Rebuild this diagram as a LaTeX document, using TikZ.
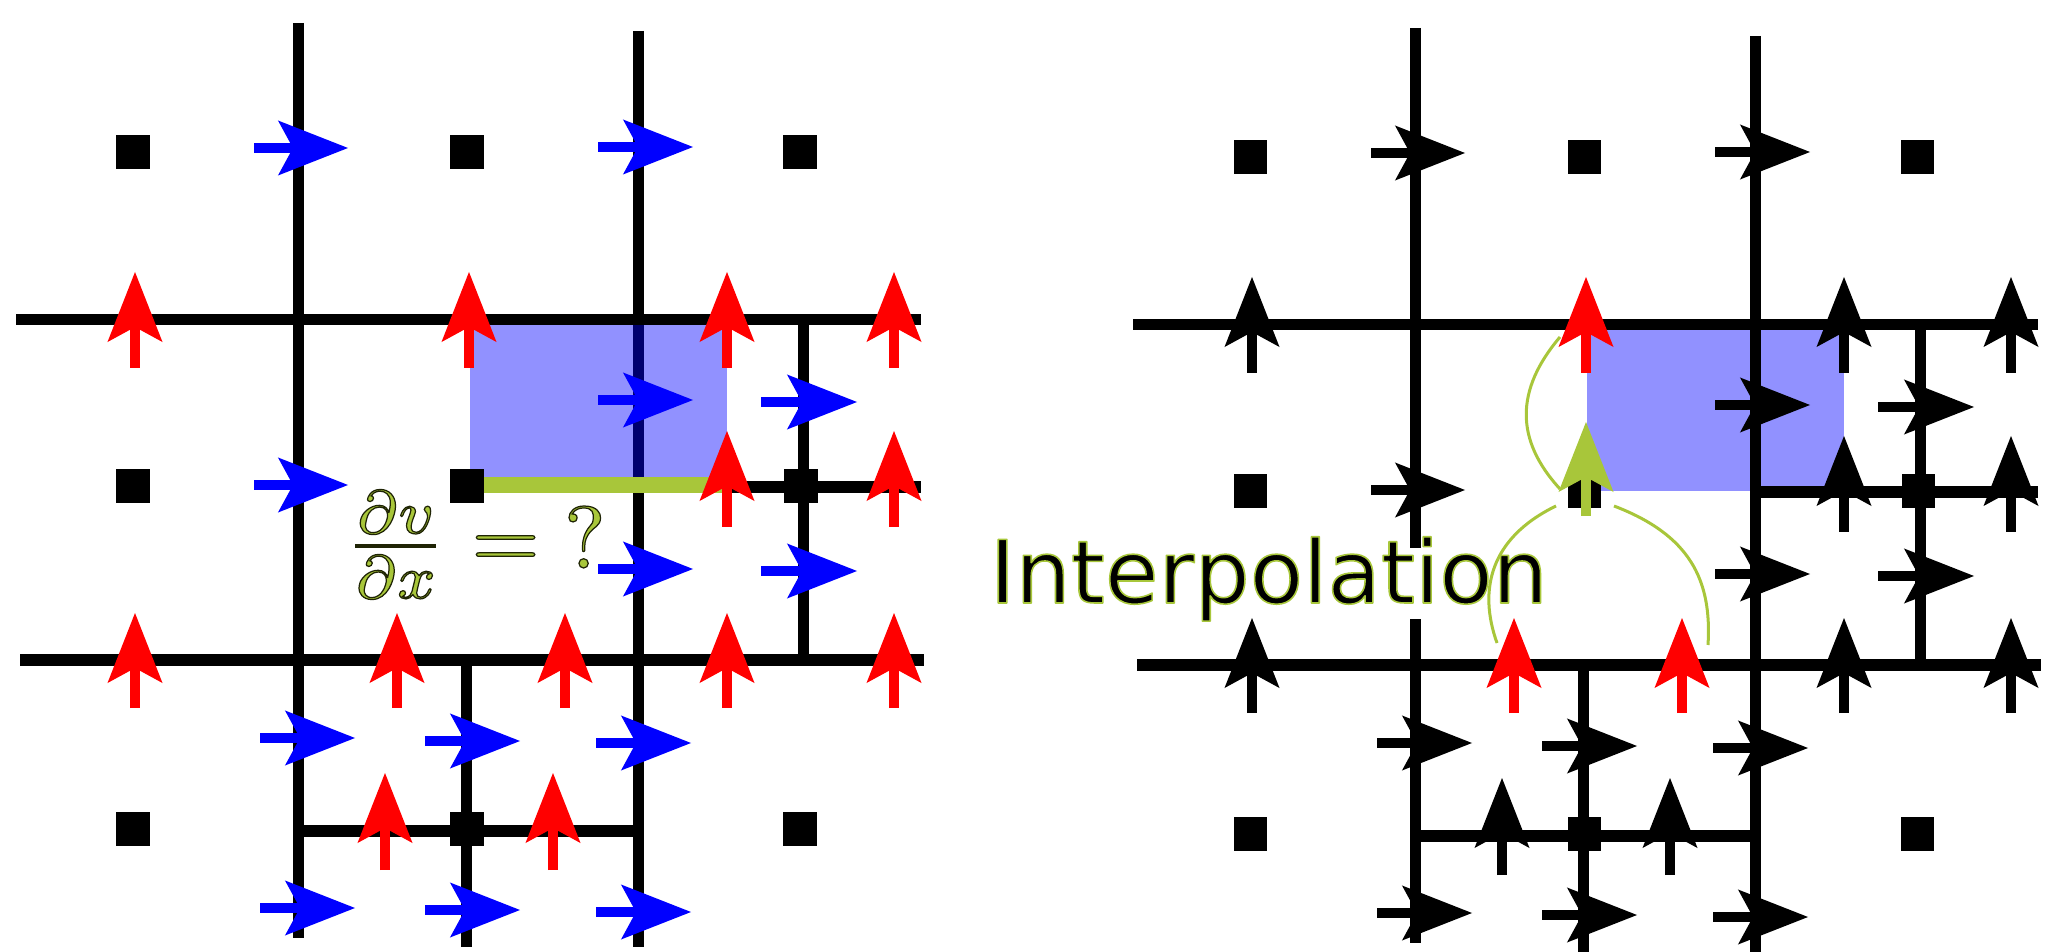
\documentclass[tikz,border=0pt]{standalone}
\usepackage{fontspec}
\usepackage{amsmath}
\usepackage{tikz}
\usetikzlibrary{arrows.meta}
\newfontfamily\labelfont{DejaVu Sans}
\definecolor{igreen}{RGB}{168,198,58}
% text drawn with fill and stroke (pdf text render mode 2)
\newcommand{\rimmed}[2]{\special{pdf:code q #1 2 Tr}#2\special{pdf:code Q}}

\begin{document}
\begin{tikzpicture}[
  x=0.01cm, y=-0.01cm,
  meshline/.style={line width=0.11cm},
  flux/.style={line width=0.1cm, -{Stealth[length=0.7cm, width=0.55cm, inset=0.15cm, line width=0pt]}},
  uvel/.style={flux, blue},
  vvel/.style={flux, red},
  bvel/.style={flux, black},
  ivel/.style={flux, igreen},
  ccell/.style={fill=black, minimum size=0.33cm, inner sep=0pt},
  cvol/.style={fill=blue, fill opacity=0.43},
  link/.style={igreen, line width=0.03cm}
]
\useasboundingbox (0,0) rectangle (2048,952);

% ===== left: staggered u/v on the refined mesh
\draw[meshline] (16,320) -- (921,320);
\draw[meshline] (20,660) -- (924,660);
\draw[meshline] (298,23) -- (298,938);
\draw[meshline] (638,31) -- (638,947);
% refined cells
\draw[meshline] (803,320) -- (803,660);
\draw[meshline] (638,487) -- (921,487);
\draw[meshline] (466,660) -- (466,947);
\draw[meshline] (298,831) -- (638,831);

% control volume and the face for dv/dx
\fill[cvol] (470,325) rectangle (727,486);
\draw[igreen, line width=0.15cm] (467,485) -- (727,485);

% u on vertical faces
\draw[uvel] (254,148) -- (348,148);
\draw[uvel] (598,147) -- (693,147);
\draw[uvel] (254,485) -- (348,485);
\draw[uvel] (598,400) -- (693,400);
\draw[uvel] (598,569) -- (693,569);
\draw[uvel] (761,402) -- (857,402);
\draw[uvel] (761,571) -- (857,571);
\draw[uvel] (260,738) -- (355,738);
\draw[uvel] (425,741) -- (520,741);
\draw[uvel] (596,743) -- (691,743);
\draw[uvel] (260,908) -- (355,908);
\draw[uvel] (425,910) -- (520,910);
\draw[uvel] (596,912) -- (691,912);

% v on horizontal faces
\draw[vvel] (135,368) -- (135,272);
\draw[vvel] (469,368) -- (469,272);
\draw[vvel] (727,368) -- (727,272);
\draw[vvel] (894,368) -- (894,272);
\draw[vvel] (727,527) -- (727,431);
\draw[vvel] (894,527) -- (894,431);
\draw[vvel] (135,708) -- (135,613);
\draw[vvel] (397,708) -- (397,613);
\draw[vvel] (565,708) -- (565,613);
\draw[vvel] (727,708) -- (727,613);
\draw[vvel] (894,708) -- (894,613);
\draw[vvel] (385,870) -- (385,773);
\draw[vvel] (553,870) -- (553,773);

% cell centres
\node[ccell] (l11) at (133,152) {};
\node[ccell] (l12) at (467,152) {};
\node[ccell] (l13) at (800,152) {};
\node[ccell] (l21) at (133,486) {};
\node[ccell] (l22) at (467,486) {};
\node[ccell] (l23) at (801,486) {};
\node[ccell] (l31) at (133,829) {};
\node[ccell] (l32) at (467,829) {};
\node[ccell] (l33) at (800,829) {};

\node[anchor=base west, inner sep=0pt, text=igreen] (dvdx) at (344,568)
  {\scalebox{2.5}{\rimmed{0.12 0.14 0.02 RG 0.14 w}{$\frac{\partial v}{\partial x}={?}$}}};

% ===== right: same mesh, v interpolated at the cell centre
\begin{scope}[shift={(1117,5)}]
\fill[cvol] (470,325) rectangle (727,486);

\draw[meshline] (16,320) -- (921,320);
\draw[meshline] (20,660) -- (924,660);
\draw[meshline] (298,23) -- (298,938);
\draw[meshline] (638,31) -- (638,947);
\draw[meshline] (803,320) -- (803,660);
\draw[meshline] (638,487) -- (921,487);
\draw[meshline] (466,660) -- (466,947);
\draw[meshline] (298,831) -- (638,831);

\node[anchor=base west, inner sep=0pt, fill=white, text height=0.55cm, text depth=0.16cm,
      font=\fontsize{24.8}{29}\labelfont] (interp) at (-128,598)
  {\rimmed{0.66 0.78 0.23 RG 0.45 w 1 j}{Interpolation}};

% u on vertical faces
\draw[bvel] (254,148) -- (348,148);
\draw[bvel] (598,147) -- (693,147);
\draw[bvel] (254,485) -- (348,485);
\draw[bvel] (598,400) -- (693,400);
\draw[bvel] (598,569) -- (693,569);
\draw[bvel] (761,402) -- (857,402);
\draw[bvel] (761,571) -- (857,571);
\draw[bvel] (260,738) -- (355,738);
\draw[bvel] (425,741) -- (520,741);
\draw[bvel] (596,743) -- (691,743);
\draw[bvel] (260,908) -- (355,908);
\draw[bvel] (425,910) -- (520,910);
\draw[bvel] (596,912) -- (691,912);

% v on horizontal faces (red: used for the interpolation)
\draw[bvel] (135,368) -- (135,272);
\draw[vvel] (469,368) -- (469,272);
\draw[bvel] (727,368) -- (727,272);
\draw[bvel] (894,368) -- (894,272);
\draw[bvel] (727,527) -- (727,431);
\draw[bvel] (894,527) -- (894,431);
\draw[bvel] (135,708) -- (135,613);
\draw[vvel] (397,708) -- (397,613);
\draw[vvel] (565,708) -- (565,613);
\draw[bvel] (727,708) -- (727,613);
\draw[bvel] (894,708) -- (894,613);
\draw[bvel] (385,870) -- (385,773);
\draw[bvel] (553,870) -- (553,773);

\node[ccell] (r11) at (133,152) {};
\node[ccell] (r12) at (467,152) {};
\node[ccell] (r13) at (800,152) {};
\node[ccell] (r21) at (133,486) {};
\node[ccell] (r22) at (467,486) {};
\node[ccell] (r23) at (801,486) {};
\node[ccell] (r31) at (133,829) {};
\node[ccell] (r32) at (467,829) {};
\node[ccell] (r33) at (800,829) {};

% interpolated v
\draw[ivel] (469,511) -- (469,417);
\draw[link] (443,332) .. controls (398,385) and (398,435) .. (443,484);
\draw[link] (439,501) .. controls (373,533) and (361,585) .. (380,638);
\draw[link] (497,501) .. controls (573,530) and (595,575) .. (591,640);
\end{scope}

\end{tikzpicture}
\end{document}
